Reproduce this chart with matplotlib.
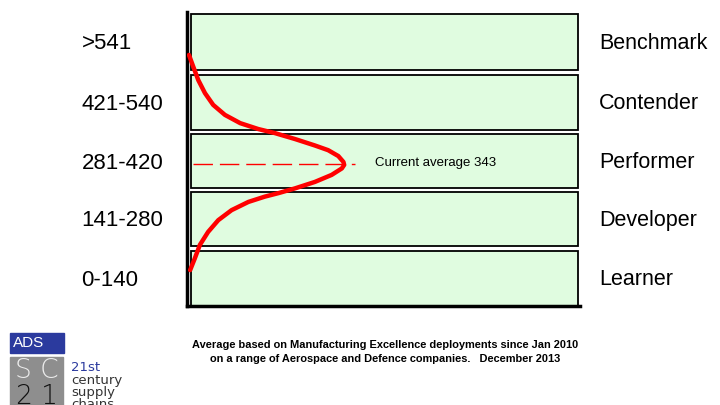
import numpy as np
import matplotlib
matplotlib.use("Agg")
import matplotlib.pyplot as plt
from matplotlib.patches import Rectangle

plt.rcParams['font.family'] = ['Liberation Sans', 'DejaVu Sans']

# ---- data ----
levels = ["Learner", "Developer", "Performer", "Contender", "Benchmark"]
ranges = ["0-140", "141-280", "281-420", "421-540", ">541"]
band_pos = [0.47, 1.48, 2.46, 3.46, 4.49]
band_height = [0.94, 0.93, 0.92, 0.94, 0.95]

# distribution curve (x: spread, y: band scale)
curve_x = [0.5, 1.6, 2.9, 4.6, 6.7, 9.7, 13.6, 18.2, 22.5, 27.6, 32.7, 36.1,
           38.7, 40.0, 40.2, 39.6, 37.0, 32.7, 27.6, 23.4, 19.9, 15.7, 11.4,
           8.0, 5.4, 3.3, 2.0, 0.8]
curve_y = [4.27, 4.07, 3.84, 3.62, 3.42, 3.25, 3.11, 3.01, 2.94, 2.84, 2.73,
           2.65, 2.55, 2.45, 2.40, 2.34, 2.23, 2.11, 2.00, 1.92, 1.86, 1.77,
           1.63, 1.46, 1.26, 1.04, 0.81, 0.61]
avg_y = 2.41
avg_label = "Current average 343"
footnote = ["Average based on Manufacturing Excellence deployments since Jan 2010",
            "on a range of Aerospace and Defence companies.   December 2013"]

fig = plt.figure(figsize=(7.2, 4.05), dpi=100)
ax = fig.add_axes([187 / 720, 1 - 306 / 405, 393 / 720, 294 / 405])
ax.set_xlim(0, 100.5)
ax.set_ylim(0, 5)

ax.barh(band_pos, 99, height=band_height, left=0.9, color='#e0fce0',
        edgecolor='black', linewidth=1.3, zorder=1)

ax.plot(curve_x, curve_y, color='#ff0000', lw=3.2, solid_capstyle='round',
        solid_joinstyle='round', zorder=3)
ax.plot([1.5, 43], [avg_y, avg_y], color='#ff0000', lw=1,
        dashes=(14, 5), zorder=2)
ax.text(48.2, avg_y + 0.02, avg_label, fontsize=9.5, va='center', ha='left')

for p, r, lv in zip(band_pos, ranges, levels):
    ax.text(-27, p - 0.03, r, fontsize=16, va='center', ha='left', clip_on=False)
    ax.text(105.3, p - 0.02, lv, fontsize=15.5, va='center', ha='left', clip_on=False)

for s in ['top', 'right']:
    ax.spines[s].set_visible(False)
ax.spines['left'].set_linewidth(2.5)
ax.spines['bottom'].set_linewidth(2.5)
ax.set_xticks([])
ax.set_yticks([])
ax.patch.set_alpha(0)

fig.text(385 / 720, 1 - 345 / 405, footnote[0], fontsize=7.9, weight='bold',
         ha='center', va='center')
fig.text(385 / 720, 1 - 359 / 405, footnote[1], fontsize=7.9, weight='bold',
         ha='center', va='center')

# logo block
fig.add_artist(Rectangle((10 / 720, 1 - 353 / 405), 54 / 720, 20 / 405,
                         transform=fig.transFigure, color='#2b3a9e'))
fig.text(13 / 720, 1 - 343 / 405, "ADS", color='white', fontsize=11,
         ha='left', va='center')
fig.add_artist(Rectangle((10 / 720, 0), 53 / 720, 48 / 405,
                         transform=fig.transFigure, color='#8e8e8e'))
fig.text(37 / 720, 1 - 371 / 405, "S C", color='#ececec', fontsize=19,
         ha='center', va='center', family='DejaVu Sans', weight='light')
fig.text(37 / 720, 1 - 397 / 405, "2 1", color='#111111', fontsize=19,
         ha='center', va='center', family='DejaVu Sans', weight='light')
fig.text(71 / 720, 1 - 371 / 405, "21st", color='#2b3a9e', fontsize=9.5,
         ha='left', va='baseline', family='DejaVu Sans')
fig.text(71 / 720, 1 - 408 / 405, "century\nsupply\nchains", color='#333333',
         fontsize=9.5, ha='left', va='baseline', family='DejaVu Sans',
         linespacing=0.92)

fig.savefig("out.png", dpi=100)
